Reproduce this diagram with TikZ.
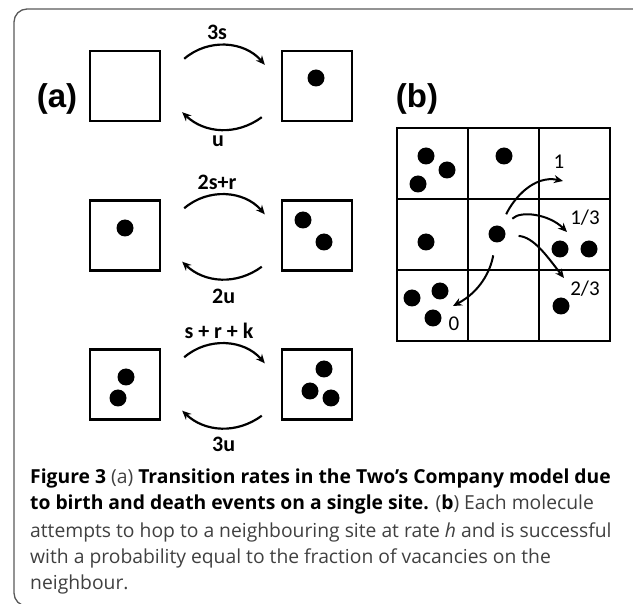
\documentclass[tikz,border=0pt]{standalone}
\usepackage{fontspec}
\setmainfont{PT Sans}
\newfontfamily\capfont{Open Sans}
\newfontfamily\panelfont{Liberation Sans}
\newfontfamily\ratefont{Carlito}
\usetikzlibrary{arrows.meta}
\definecolor{capgray}{gray}{0.25}
\definecolor{framegray}{gray}{0.35}
\newcommand\capbold[1]{\textcolor{black}{\bfseries #1}}
\tikzset{
  site/.style={draw, line width=2.4pt, minimum size=70pt, inner sep=0pt},
  cell/.style={draw, line width=2.4pt, minimum size=71pt, inner sep=0pt},
  mol/.style={circle, fill, minimum size=17pt, inner sep=0pt},
  rate/.style={font=\ratefont\bfseries\fontsize{22}{24}\selectfont, inner sep=0pt},
  prob/.style={font=\ratefont\fontsize{21}{23}\selectfont, inner sep=0pt},
  panel/.style={font=\panelfont\bfseries\fontsize{33}{36}\selectfont, inner sep=0pt},
  trans/.style={line width=2.2pt, -{Stealth[length=9pt,width=8pt]}},
  hop/.style={line width=2pt, -{Stealth[length=9pt,width=8pt]}, shorten <=13pt},
  capline/.style={anchor=base west, inner sep=0pt, text=capgray, font=\capfont\fontsize{19.3}{26}\selectfont}
}
\begin{document}
\begin{tikzpicture}[x=1pt,y=1pt]
    \useasboundingbox (0,0) rectangle (633,-604);
    \draw[framegray, line width=1.3pt, rounded corners=13pt] (14,-9) rectangle (665,-606);
    % (a) single site transitions
    \node[panel] (pa) at (57,-99) {(a)};
    \node[site] (s0) at (125,-86) {};
    \node[site] (s1) at (317,-86) {};
    \node[mol] (m1) at (316,-78) {};
    \node[site] (s2) at (125,-235.5) {};
    \node[mol] (m2) at (125,-228) {};
    \node[site] (s3) at (317,-235.5) {};
    \node[mol] (m3) at (303,-220) {};
    \node[mol] (m4) at (324,-242) {};
    \node[site] (s4) at (125,-384.5) {};
    \node[mol] (m5) at (126,-377) {};
    \node[mol] (m6) at (118,-398) {};
    \node[site] (s5) at (317,-384.5) {};
    \node[mol] (m7) at (324,-369) {};
    \node[mol] (m8) at (310,-391) {};
    \node[mol] (m9) at (331,-398) {};
    \node[rate, anchor=base] (b1) at (217,-40) {3s};
    \node[rate, anchor=base west] (d1) at (212,-147) {u};
    \node[rate, anchor=base] (b2) at (217,-190) {2s+r};
    \node[rate, anchor=base west] (d2) at (212,-304) {2u};
    \node[rate, anchor=base] (b3) at (219,-339) {s + r + k};
    \node[rate, anchor=base west] (d3) at (212,-452) {3u};
    \draw[trans] ([shift={(23,-9)}]s0.north east) to[bend left=45] ([shift={(-16,-15)}]s1.north west);
    \draw[trans] ([shift={(-19,5)}]s1.south west) to[bend left=40] ([shift={(21,10)}]s0.south east);
    \draw[trans] ([shift={(23,-9)}]s2.north east) to[bend left=45] ([shift={(-16,-15)}]s3.north west);
    \draw[trans] ([shift={(-19,5)}]s3.south west) to[bend left=40] ([shift={(21,10)}]s2.south east);
    \draw[trans] ([shift={(23,-9)}]s4.north east) to[bend left=45] ([shift={(-16,-15)}]s5.north west);
    \draw[trans] ([shift={(-19,5)}]s5.south west) to[bend left=40] ([shift={(21,10)}]s4.south east);
    % (b) hopping on the lattice
    \node[panel] (pb) at (417,-99) {(b)};
    \node[cell] (c11) at (432.5,-163.5) {};
    \node[cell] (c21) at (503.5,-163.5) {};
    \node[cell] (c31) at (574.5,-163.5) {};
    \node[cell] (c12) at (432.5,-234.5) {};
    \node[cell] (c22) at (503.5,-234.5) {};
    \node[cell] (c32) at (574.5,-234.5) {};
    \node[cell] (c13) at (432.5,-305.5) {};
    \node[cell] (c23) at (503.5,-305.5) {};
    \node[cell] (c33) at (574.5,-305.5) {};
    \node[mol] (g1) at (426,-156) {};
    \node[mol] (g2) at (447,-170) {};
    \node[mol] (g3) at (418,-184) {};
    \node[mol] (g4) at (504,-156) {};
    \node[mol] (g5) at (426,-242) {};
    \node[mol] (mid) at (497,-234) {};
    \node[mol] (g6) at (560,-249) {};
    \node[mol] (g7) at (589,-249) {};
    \node[mol] (g8) at (412,-298) {};
    \node[mol] (g9) at (440,-291) {};
    \node[mol] (g10) at (433,-318) {};
    \node[mol] (g11) at (561,-306) {};
    \node[prob] (p1) at (559,-162) {1};
    \node[prob] (p13) at (585,-218) {1/3};
    \node[prob] (p23) at (585,-289) {2/3};
    \node[prob] (p0) at (454,-324) {0};
    \coordinate (t1) at (563,-181);
    \coordinate (t13) at (567,-232);
    \coordinate (t23) at (564,-278);
    \coordinate (t0) at (453,-306);
    \draw[hop] (mid) to[out=65,in=168] (t1);
    \draw[hop] (mid) to[out=45,in=135] (t13);
    \draw[hop] (mid) to[out=-5,in=128] (t23);
    \draw[hop] (mid) to[out=-100,in=28] (t0);
    % caption
    \node[capline] (cap1) at (30,-484) {\capbold{Figure 3} (a) \capbold{Transition rates in the Two’s Company model due}};
    \node[capline] (cap2) at (30,-510) {\capbold{to birth and death events on a single site.} (\capbold{b}) Each molecule};
    \node[capline] (cap3) at (30,-537) {attempts to hop to a neighbouring site at rate \textit{h} and is successful};
    \node[capline] (cap4) at (30,-564) {with a probability equal to the fraction of vacancies on the};
    \node[capline] (cap5) at (30,-590) {neighbour.};
\end{tikzpicture}
\end{document}
